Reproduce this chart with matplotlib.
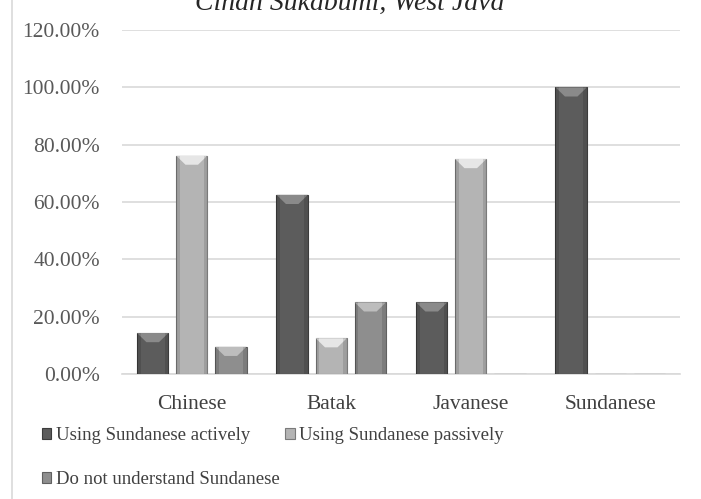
import matplotlib
matplotlib.use("Agg")
import matplotlib.pyplot as plt
import numpy as np
from matplotlib.patches import Polygon, Rectangle
from matplotlib.lines import Line2D

categories = ["Chinese", "Batak", "Javanese", "Sundanese"]
series_names = ["Using Sundanese actively", "Using Sundanese passively", "Do not understand Sundanese"]
active = [14.3, 62.5, 25.0, 100.0]
passive = [76.2, 12.5, 75.0, 0.0]
not_understand = [9.5, 25.0, 0.0, 0.0]
yticks = [0, 20, 40, 60, 80, 100, 120]
title = "Cihan Sukabumi, West Java"

colors = ["#5c5c5c", "#b4b4b4", "#8e8e8e"]
tops = ["#8a8a8a", "#e6e6e6", "#bdbdbd"]
edges = ["#3c3c3c", "#7a7a7a", "#606060"]

plt.rcParams['font.family'] = ['Liberation Serif', 'DejaVu Serif']

fig = plt.figure(figsize=(7.01, 4.99), dpi=100)
ax = fig.add_axes([122/701, 1-374/499, 558/701, 344/499])

x = np.arange(len(categories))
w = 0.225
step = 0.28
series = [active, passive, not_understand]
containers = []
for i, vals in enumerate(series):
    pos = x + (i - 1) * step
    bars = ax.bar(pos, vals, width=w, color=colors[i], edgecolor=edges[i], linewidth=0.8,
                  zorder=3, label=series_names[i])
    containers.append(bars)
    for b, v in zip(bars, vals):
        if v <= 0:
            continue
        x0 = b.get_x(); x1 = x0 + b.get_width(); h = b.get_height()
        d = min(3.2, h)
        ax.add_patch(Polygon([[x0, h], [x1, h], [x1 - w*0.3, h - d], [x0 + w*0.3, h - d]],
                             closed=True, facecolor=tops[i], edgecolor='none', zorder=4))
        ax.add_patch(Rectangle((x0, 0), w*0.12, h, facecolor='black', alpha=0.12,
                               edgecolor='none', zorder=4))
        ax.add_patch(Rectangle((x1 - w*0.12, 0), w*0.12, h, facecolor='black', alpha=0.12,
                               edgecolor='none', zorder=4))

ax.set_xlim(-0.5, 3.5)
ax.set_ylim(0, 120)
ax.set_yticks(yticks)
ax.set_yticklabels([f"{t:.2f}%" for t in yticks], fontsize=15.5, color="#595959")
ax.set_xticks(x)
ax.set_xticklabels(categories, fontsize=15.5, color="#404040")
ax.tick_params(axis='both', length=0)
ax.tick_params(axis='y', pad=16)
ax.tick_params(axis='x', pad=15)
ax.grid(axis='y', color="#d9d9d9", linewidth=1.2, zorder=0)
for s in ['top', 'right', 'left']:
    ax.spines[s].set_visible(False)
ax.spines['bottom'].set_color("#d9d9d9")
ax.spines['bottom'].set_linewidth(1.2)

fig.add_artist(Line2D([12/701, 12/701], [0, 1], transform=fig.transFigure, color="#d9d9d9", linewidth=1.2))

fig.text(350/701, 1-10/499, title, ha='center', va='baseline', fontsize=20, style='italic', color="#262626")

order = [0, 2, 1]
leg = fig.legend(handles=[containers[k] for k in order], labels=[series_names[k] for k in order],
                 loc='upper left', bbox_to_anchor=(25/701, 1-410/499), ncol=2, frameon=False,
                 fontsize=13.5, handlelength=0.5, handleheight=0.5, handletextpad=0.25,
                 columnspacing=0.3, labelspacing=1.45, labelcolor="#404040")

fig.savefig("out.png", dpi=100)
